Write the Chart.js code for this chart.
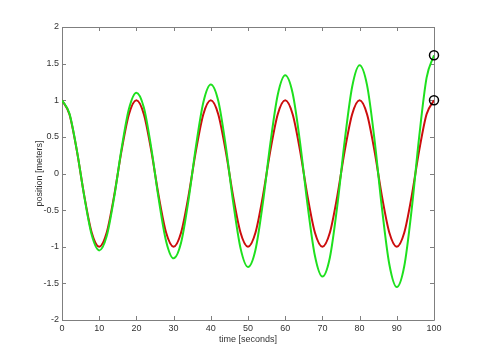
<!DOCTYPE html>
<html>
<head>
<meta charset="utf-8">
<script src="https://cdn.jsdelivr.net/npm/chart.js@4/dist/chart.umd.min.js"></script>
<style>
  html, body { margin: 0; padding: 0; background: #fff; }
  #wrap { width: 480px; height: 360px; }
</style>
</head>
<body>
<div id="wrap"><canvas id="myLineChart"></canvas></div>
<script>
// time samples every 2 seconds, 0..100
var times = [0, 2, 4, 6, 8, 10, 12, 14, 16, 18, 20, 22, 24, 26, 28, 30, 32, 34, 36, 38, 40,
  42, 44, 46, 48, 50, 52, 54, 56, 58, 60, 62, 64, 66, 68, 70, 72, 74, 76, 78, 80,
  82, 84, 86, 88, 90, 92, 94, 96, 98, 100];

// red curve (constant amplitude)
var redPos = [1, 0.809, 0.309, -0.309, -0.809, -1, -0.809, -0.309, 0.309, 0.809,
  1, 0.809, 0.309, -0.309, -0.809, -1, -0.809, -0.309, 0.309, 0.809,
  1, 0.809, 0.309, -0.309, -0.809, -1, -0.809, -0.309, 0.309, 0.809,
  1, 0.809, 0.309, -0.309, -0.809, -1, -0.809, -0.309, 0.309, 0.809,
  1, 0.809, 0.309, -0.309, -0.809, -1, -0.809, -0.309, 0.309, 0.809, 1];

// green curve (growing amplitude)
var greenPos = [1.0, 0.817, 0.315, -0.318, -0.841, -1.05, -0.858, -0.331, 0.334, 0.883,
  1.103, 0.901, 0.347, -0.351, -0.927, -1.158, -0.946, -0.365, 0.368, 0.974,
  1.216, 0.993, 0.383, -0.387, -1.022, -1.276, -1.043, -0.402, 0.406, 1.074,
  1.340, 1.095, 0.422, -0.426, -1.127, -1.407, -1.150, -0.443, 0.448, 1.184,
  1.478, 1.207, 0.466, -0.470, -1.243, -1.551, -1.267, -0.489, 0.494, 1.305, 1.615];

var xTicks = [0, 10, 20, 30, 40, 50, 60, 70, 80, 90, 100];
var yTicks = [-2, -1.5, -1, -0.5, 0, 0.5, 1, 1.5, 2];

var axisColor = "#7f7f7f";
var textColor = "#333333";
var fontFamily = "Liberation Sans, Arial, sans-serif";

function toPoints(xs, ys) {
  var pts = [];
  for (var i = 0; i < xs.length; i++) {
    pts.push({ x: xs[i], y: ys[i] });
  }
  return pts;
}

var last = times.length - 1;

// matlab style box with inward ticks on all four sides
var boxTicks = {
  id: "boxTicks",
  beforeDatasetsDraw: function (chart) {
    var ctx = chart.ctx;
    var a = chart.chartArea;
    var xs = chart.scales.x;
    var ys = chart.scales.y;
    var len = 4;
    ctx.save();
    ctx.strokeStyle = axisColor;
    ctx.lineWidth = 1;
    ctx.beginPath();
    ctx.rect(Math.round(a.left) + 0.5, Math.round(a.top) + 0.5,
      Math.round(a.right - a.left), Math.round(a.bottom - a.top));
    for (var i = 0; i < xTicks.length; i++) {
      var px = Math.round(xs.getPixelForValue(xTicks[i])) + 0.5;
      ctx.moveTo(px, a.bottom);
      ctx.lineTo(px, a.bottom - len);
      ctx.moveTo(px, a.top);
      ctx.lineTo(px, a.top + len);
    }
    for (var j = 0; j < yTicks.length; j++) {
      var py = Math.round(ys.getPixelForValue(yTicks[j])) + 0.5;
      ctx.moveTo(a.left, py);
      ctx.lineTo(a.left + len, py);
      ctx.moveTo(a.right, py);
      ctx.lineTo(a.right - len, py);
    }
    ctx.stroke();
    ctx.restore();
  }
};

var ctx = document.getElementById("myLineChart").getContext("2d");
var myLineChart = new Chart(ctx, {
  type: "line",
  data: {
    datasets: [
      {
        label: "markers",
        data: [
          { x: times[last], y: greenPos[last] },
          { x: times[last], y: redPos[last] }
        ],
        showLine: false,
        clip: false,
        pointRadius: 4.5,
        pointBorderWidth: 1.5,
        pointBorderColor: "#000000",
        pointBackgroundColor: "rgba(0,0,0,0)",
        order: 0
      },
      {
        label: "green",
        data: toPoints(times, greenPos),
        borderColor: "#1ee01e",
        borderWidth: 2,
        pointRadius: 0,
        cubicInterpolationMode: "monotone",
        order: 1
      },
      {
        label: "red",
        data: toPoints(times, redPos),
        borderColor: "#cc0d0d",
        borderWidth: 2,
        pointRadius: 0,
        cubicInterpolationMode: "monotone",
        order: 2
      }
    ]
  },
  options: {
    responsive: true,
    maintainAspectRatio: false,
    animation: false,
    events: [],
    layout: { padding: { top: 27, right: 46, left: 0, bottom: 0 } },
    plugins: {
      legend: { display: false },
      tooltip: { enabled: false }
    },
    scales: {
      x: {
        type: "linear",
        min: 0,
        max: 100,
        afterBuildTicks: function (scale) {
          scale.ticks = xTicks.map(function (v) { return { value: v }; });
        },
        afterFit: function (scale) { scale.height = 40; },
        grid: { display: false, drawTicks: false },
        border: { display: false },
        ticks: {
          color: textColor,
          font: { family: fontFamily, size: 9 },
          padding: 3,
          maxRotation: 0,
          autoSkip: false,
          callback: function (v) { return String(v); }
        },
        title: {
          display: true,
          text: "time [seconds]",
          color: textColor,
          font: { family: fontFamily, size: 9 },
          padding: { top: 0, bottom: 15 }
        }
      },
      y: {
        type: "linear",
        min: -2,
        max: 2,
        afterBuildTicks: function (scale) {
          scale.ticks = yTicks.map(function (v) { return { value: v }; });
        },
        afterFit: function (scale) { scale.width = 62; },
        grid: { display: false, drawTicks: false },
        border: { display: false },
        ticks: {
          color: textColor,
          font: { family: fontFamily, size: 9 },
          padding: 3,
          autoSkip: false,
          callback: function (v) { return String(v); }
        },
        title: {
          display: true,
          text: "position [meters]",
          color: textColor,
          font: { family: fontFamily, size: 9 },
          padding: { top: 34, bottom: 0 }
        }
      }
    }
  },
  plugins: [boxTicks]
});
</script>
</body>
</html>
